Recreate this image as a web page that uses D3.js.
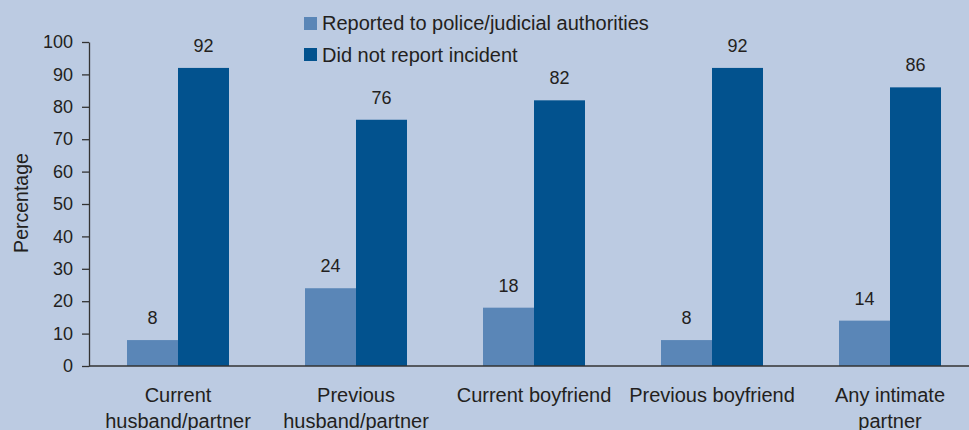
<!DOCTYPE html>
<html><head><meta charset="utf-8">
<script src="https://cdn.jsdelivr.net/npm/d3@7"></script>
<style>body{margin:0;background:#bccbe2;}svg{display:block;font-family:"Liberation Sans",Arial,sans-serif;}</style>
</head><body>
<svg id="c" width="969" height="430"></svg>
<script>
const categories = [["Current","husband/partner"],["Previous","husband/partner"],["Current boyfriend"],["Previous boyfriend"],["Any intimate","partner"]];
const seriesNames = ["Reported to police/judicial authorities","Did not report incident"];
const reported = [8,24,18,8,14];
const notReported = [92,76,82,92,86];
const yTicks = [0,10,20,30,40,50,60,70,80,90,100];
const colors = ["#5a86b7","#02528e"];
const txt = "#231f20";

const svg = d3.select("#c");
svg.append("rect").attr("width",969).attr("height",430).attr("fill","#bccbe2");

const keys = categories.map((c,i)=>i);
const x0 = d3.scaleBand().domain(keys).range([89,979]).padding(0);
const groupW = 102;
const x1 = d3.scaleBand().domain([0,1]).range([(x0.bandwidth()-groupW)/2,(x0.bandwidth()+groupW)/2]).padding(0);
const y = d3.scaleLinear().domain([0,100]).range([366,42]);

const vals = [reported, notReported];

vals.forEach((arr,s)=>{
  svg.append("g").selectAll("rect").data(arr).join("rect")
    .attr("x",(d,i)=>x0(i)+x1(s)).attr("width",x1.bandwidth())
    .attr("y",d=>y(d)).attr("height",d=>y(0)-y(d)).attr("fill",colors[s]);
  svg.append("g").selectAll("text").data(arr).join("text")
    .attr("x",(d,i)=>x0(i)+x1(s)+x1.bandwidth()/2).attr("y",d=>y(d)-16)
    .attr("text-anchor","middle").attr("font-size",18).attr("fill",txt).text(d=>d);
});

const ya = svg.append("g").attr("transform","translate(89,0)")
  .call(d3.axisLeft(y).tickValues(yTicks).tickSize(7).tickPadding(9).tickSizeOuter(0));
ya.select(".domain").attr("stroke","#333").attr("stroke-width",1.3);
ya.selectAll(".tick line").attr("stroke","#333").attr("stroke-width",1.3);
ya.selectAll(".tick text").attr("font-size",18).attr("fill",txt).attr("font-family","Liberation Sans, Arial, sans-serif");

svg.append("line").attr("x1",89).attr("x2",979).attr("y1",y(0)).attr("y2",y(0)).attr("stroke","#333").attr("stroke-width",1.3);

categories.forEach((lines,i)=>{
  const cx = x0(i)+x0.bandwidth()/2;
  const t = svg.append("text").attr("text-anchor","middle").attr("font-size",20).attr("fill",txt).attr("x",cx);
  lines.forEach((l,j)=>t.append("tspan").attr("x",cx).attr("y",402+j*26).text(l));
});

svg.append("text").attr("transform","translate(28,203) rotate(-90)").attr("text-anchor","middle")
  .attr("font-size",19.5).attr("fill",txt).text("Percentage");

seriesNames.forEach((n,i)=>{
  svg.append("rect").attr("x",304).attr("y",17+i*31).attr("width",13).attr("height",13).attr("fill",colors[i]);
  svg.append("text").attr("x",322).attr("y",30+i*32).attr("font-size",20).attr("fill",txt).text(n);
});
</script>
</body></html>
